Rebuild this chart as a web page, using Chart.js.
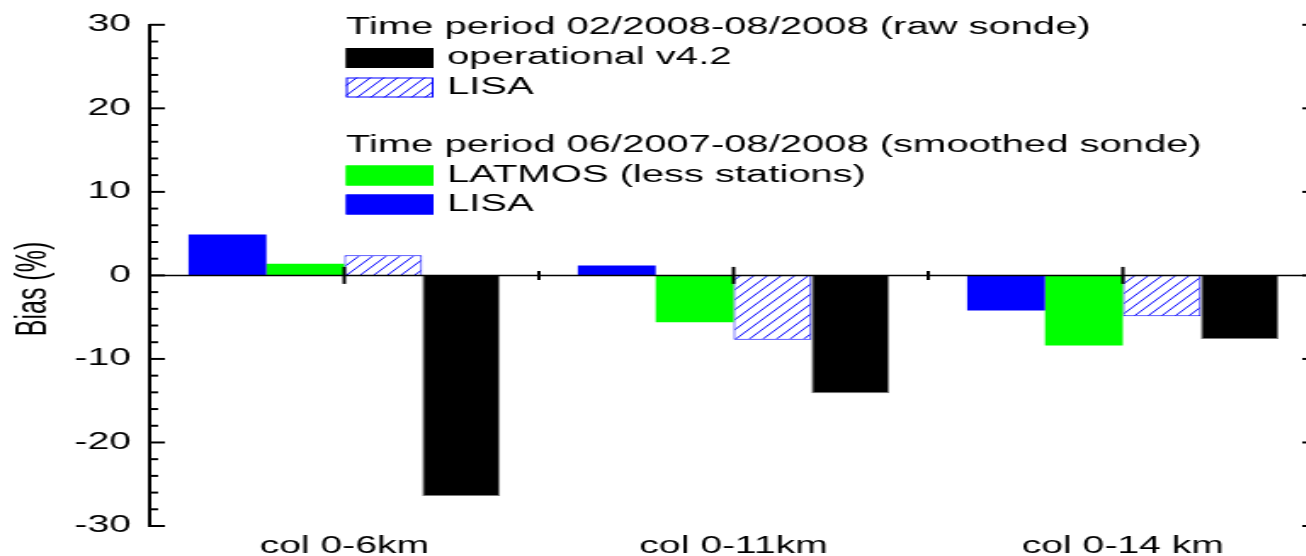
<!DOCTYPE html>
<html>
<head>
<meta charset="utf-8">
<script src="https://cdn.jsdelivr.net/npm/chart.js@4.4.0/dist/chart.umd.min.js"></script>
<style>
  html, body { margin: 0; padding: 0; background: #fff; overflow: hidden; }
  #wrap { width: 1306px; height: 556px; overflow: hidden; }
</style>
</head>
<body>
<!-- the original figure is stretched horizontally, so the canvas is too -->
<div id="wrap"><canvas id="chart" width="780" height="556" style="width:1326px;height:556px;display:block"></canvas></div>
<script>
const categories = ['col 0-6km', 'col 0-11km', 'col 0-14 km'];
const lisaSmoothed = [4.9, 1.2, -4.2];
const latmos = [1.4, -5.6, -8.4];
const lisaRaw = [2.4, -7.7, -4.9];
const operational = [-26.4, -14.1, -7.6];

const yMin = -30;
const yMax = 30;
const yStep = 10;
const yMinorStep = 2;

const legendGroups = [
    { title: 'Time period 02/2008-08/2008 (raw sonde)', items: [3, 2] },
    { title: 'Time period 06/2007-08/2008 (smoothed sonde)', items: [1, 0] }
];

const FONT = 'Liberation Sans, Arial, Helvetica, sans-serif';
Chart.defaults.font.family = FONT;
Chart.defaults.color = '#000';

function makeHatch() {
    const c = document.createElement('canvas');
    c.width = 8;
    c.height = 10;
    const g = c.getContext('2d');
    g.fillStyle = '#fff';
    g.fillRect(0, 0, 8, 10);
    g.strokeStyle = '#0000ff';
    g.lineWidth = 1;
    g.beginPath();
    for (const dx of [-8, 0, 8]) {
        g.moveTo(dx, 10);
        g.lineTo(dx + 8, 0);
    }
    g.stroke();
    return g.createPattern(c, 'repeat');
}

const hatch = makeHatch();

function line(ctx, x1, y1, x2, y2) {
    ctx.beginPath();
    ctx.moveTo(x1, y1);
    ctx.lineTo(x2, y2);
    ctx.stroke();
}

const framePlugin = {
    id: 'frame',
    afterDatasetsDraw(chart) {
        const { ctx, chartArea: a, scales: { x, y } } = chart;
        ctx.save();
        ctx.strokeStyle = '#000';

        // zero line with its category ticks
        const y0 = y.getPixelForValue(0);
        ctx.lineWidth = 1.5;
        line(ctx, a.left, y0, a.right, y0);
        ctx.lineWidth = 2;
        categories.forEach((c, i) => {
            const px = x.getPixelForValue(i);
            line(ctx, px, y0 - 8.5, px, y0 + 8.5);
            if (i < categories.length - 1) {
                const bx = (px + x.getPixelForValue(i + 1)) / 2;
                line(ctx, bx, y0 - 4.5, bx, y0 + 4.5);
            }
        });

        // inward ticks on left and right axes
        line(ctx, a.right, a.top, a.right, a.bottom);
        for (let v = yMin; v <= yMax; v += yMinorStep) {
            const py = y.getPixelForValue(v);
            const len = v % yStep === 0 ? 9 : 5;
            line(ctx, a.left, py, a.left + len, py);
            line(ctx, a.right, py, a.right - len, py);
        }
        ctx.restore();
    },
    afterDraw(chart) {
        const { ctx } = chart;
        const sets = chart.data.datasets;
        ctx.save();

        // y axis title
        ctx.font = '25px ' + FONT;
        ctx.fillStyle = '#000';
        ctx.textAlign = 'center';
        ctx.textBaseline = 'middle';
        ctx.translate(20.5, 289);
        ctx.rotate(-Math.PI / 2);
        ctx.fillText('Bias (%)', 0, 0);
        ctx.setTransform(1, 0, 0, 1, 0, 0);

        // legend
        const boxX = 203.5, boxW = 51.5, boxH = 20, textX = 263;
        const rows = [[28, 58, 87.5], [146, 175.5, 204.5]];
        ctx.font = '23.5px ' + FONT;
        ctx.textAlign = 'left';
        ctx.textBaseline = 'middle';
        legendGroups.forEach((grp, gi) => {
            const r = rows[gi];
            ctx.fillStyle = '#000';
            ctx.fillText(grp.title, boxX, r[0]);
            grp.items.forEach((di, k) => {
                const ds = sets[di];
                const cy = r[k + 1];
                ctx.fillStyle = ds.backgroundColor;
                ctx.fillRect(boxX, cy - boxH / 2, boxW, boxH);
                ctx.strokeStyle = ds.legendBorder;
                ctx.lineWidth = 1;
                ctx.strokeRect(boxX + 0.5, cy - boxH / 2 + 0.5, boxW - 1, boxH - 1);
                ctx.fillStyle = '#000';
                ctx.fillText(ds.label, textX, cy);
            });
        });
        ctx.restore();
    }
};

new Chart(document.getElementById('chart'), {
    type: 'bar',
    data: {
        labels: categories,
        datasets: [
            { label: 'LISA', data: lisaSmoothed, backgroundColor: '#0000ff', borderColor: '#0000ff', legendBorder: '#0000ff', borderWidth: 0 },
            { label: 'LATMOS (less stations)', data: latmos, backgroundColor: '#00ff00', borderColor: '#00ff00', legendBorder: '#00ff00', borderWidth: 0 },
            { label: 'LISA', data: lisaRaw, backgroundColor: hatch, borderColor: '#0000ff', legendBorder: '#0000ff', borderWidth: 1 },
            { label: 'operational v4.2', data: operational, backgroundColor: '#000000', borderColor: '#7a7a7a', legendBorder: '#000000', borderWidth: 1 }
        ]
    },
    options: {
        responsive: false,
        devicePixelRatio: 1,
        animation: false,
        layout: { padding: { top: 22, right: 5, left: 0, bottom: 0 } },
        plugins: {
            legend: { display: false },
            tooltip: { enabled: false }
        },
        datasets: {
            bar: { categoryPercentage: 0.8, barPercentage: 1.0 }
        },
        scales: {
            x: {
                grid: { display: false, drawTicks: false },
                border: { display: false },
                ticks: { font: { size: 23 }, padding: 7, maxRotation: 0, color: '#000' },
                afterFit: (s) => { s.height = 30; }
            },
            y: {
                min: yMin,
                max: yMax,
                grid: { display: false, drawTicks: false },
                border: { display: true, color: '#000', width: 2 },
                ticks: { stepSize: yStep, font: { size: 23 }, padding: 11, color: '#000' },
                afterFit: (s) => { s.width = 88; }
            }
        }
    },
    plugins: [framePlugin]
});
</script>
</body>
</html>
